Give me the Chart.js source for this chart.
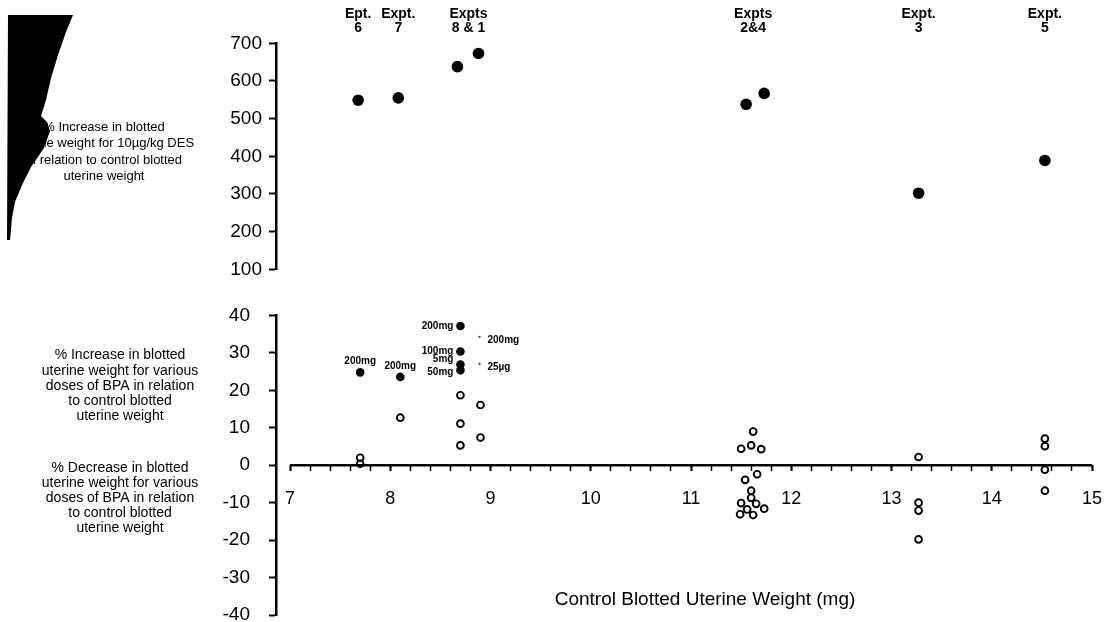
<!DOCTYPE html>
<html>
<head>
<meta charset="utf-8">
<script src="https://cdn.jsdelivr.net/npm/chart.js@4"></script>
<style>
html,body{margin:0;padding:0;background:#fff;overflow:hidden;width:1109px;height:622px}
.wrap{position:absolute;left:0;top:0;width:1109px;height:622px;overflow:hidden}
canvas{position:absolute;left:0;top:0}
</style>
</head>
<body>
<div class="wrap"><canvas id="bot" width="1109" height="660"></canvas></div>
<div class="wrap"><canvas id="top" width="1109" height="622"></canvas></div>
<script>
const SANS = '"Liberation Sans", Arial, Helvetica, sans-serif';
const NARROW = '"Liberation Sans Narrow", "Liberation Sans", Arial, sans-serif';

// ---------------- data ----------------
// top panel: % increase for 10 µg/kg DES
const desExperiments   = ['Ept. 6', 'Expt. 7', 'Expt. 8', 'Expt. 1', 'Expt. 2', 'Expt. 4', 'Expt. 3', 'Expt. 5'];
const desControlWeight = [7.68, 8.08, 8.67, 8.88, 11.55, 11.73, 13.27, 14.53];
const desIncrease      = [549, 555, 638, 673, 538, 567, 302, 389];

// experiment headers above the top panel
const headerLine1 = ['Ept.', 'Expt.', 'Expts', 'Expts', 'Expt.', 'Expt.'];
const headerLine2 = ['6', '7', '8 & 1', '2&4', '3', '5'];
const headerX     = [7.68, 8.08, 8.78, 11.62, 13.27, 14.53];

// bottom panel: BPA, filled (labelled doses)
const bpaFilledX    = [7.70, 8.10, 8.70, 8.70, 8.70, 8.70];
const bpaFilledY    = [24.8, 23.6, 37.2, 30.4, 26.9, 25.4];
const bpaFilledDose = ['200mg', '200mg', '200mg', '100mg', '5mg', '50mg'];
// Expt 1 filled marks (faint in the original)
const bpaFaintX    = [8.89, 8.89];
const bpaFaintY    = [34.3, 27.1];
const bpaFaintDose = ['200mg', '25µg'];
// bottom panel: BPA, open circles
const bpaOpenX = [7.70, 7.70, 8.10, 8.70, 8.70, 8.70, 8.90, 8.90,
  11.62, 11.50, 11.60, 11.70, 11.66, 11.54, 11.60, 11.60, 11.50, 11.65, 11.56, 11.73, 11.49, 11.62,
  13.27, 13.27, 13.27, 13.27,
  14.53, 14.53, 14.53, 14.53];
const bpaOpenY = [2.0, 0.4, 12.7, 18.7, 11.1, 5.3, 16.1, 7.4,
  9.0, 4.4, 5.3, 4.3, -2.4, -3.9, -6.8, -8.7, -10.1, -10.3, -11.8, -11.6, -13.1, -13.3,
  2.2, -10.0, -12.1, -19.8,
  7.1, 5.1, -1.2, -6.8];

// tick labels
const desTicks    = [100, 200, 300, 400, 500, 600, 700];
const bpaTicks    = [-40, -30, -20, -10, 0, 10, 20, 30, 40];
const xTickLabels = [7, 8, 9, 10, 11, 12, 13, 14, 15];

// text blocks
const desAxisText = ['% Increase in blotted', 'uterine weight for 10µg/kg DES', 'in relation to control blotted', 'uterine weight'];
const incAxisText = ['% Increase in blotted', 'uterine weight for various', 'doses of BPA in relation', 'to control blotted', 'uterine weight'];
const decAxisText = ['% Decrease in blotted', 'uterine weight for various', 'doses of BPA in relation', 'to control blotted', 'uterine weight'];
const xTitle = 'Control Blotted Uterine Weight (mg)';

// ---------------- layout constants ----------------
const AXIS_LEFT = 276;
const X_MIN = 7 - (290 - AXIS_LEFT) / 100.25;
const X_MAX = 15;
const PAD_RIGHT = 1109 - 1092;

function txt(ctx, s, x, y, font, align) {
  ctx.save();
  ctx.font = font; ctx.fillStyle = '#000';
  ctx.textAlign = align || 'center'; ctx.textBaseline = 'middle';
  ctx.fillText(s, x, y);
  ctx.restore();
}

// ---------------- top chart ----------------
const topDecor = {
  id: 'topDecor',
  afterDraw(chart) {
    const ctx = chart.ctx;
    const xs = chart.scales.x;
    // scan smudge in the top-left corner
    ctx.save();
    ctx.fillStyle = '#000';
    ctx.beginPath();
    const wedge = [[8,15],[73,15],[66,32],[58,55],[51,78],[46,100],[41,116],[47,122],[50,131],[44,148],[31,167],[22,185],[15,202],[12,218],[10,240],[7,240]];
    ctx.moveTo(wedge[0][0], wedge[0][1]);
    for (let i = 1; i < wedge.length; i++) ctx.lineTo(wedge[i][0], wedge[i][1]);
    ctx.closePath(); ctx.fill();
    ctx.restore();
    const ly = [127, 143, 160, 176];
    desAxisText.forEach((s, i) => txt(ctx, s, 104, ly[i], '13px ' + SANS));
    // experiment headers
    headerLine1.forEach((s, i) => {
      const px = xs.getPixelForValue(headerX[i]);
      txt(ctx, s, px, 14, 'bold 14px ' + NARROW);
      txt(ctx, headerLine2[i], px, 28, 'bold 14px ' + NARROW);
    });
  }
};

new Chart(document.getElementById('top'), {
  type: 'scatter',
  data: {
    labels: desExperiments,
    datasets: [{
      data: desControlWeight.map((x, i) => ({ x: x, y: desIncrease[i] })),
      pointRadius: 5.8, pointBackgroundColor: '#000', pointBorderColor: '#000', pointBorderWidth: 0
    }]
  },
  options: {
    responsive: false, animation: false,
    layout: { padding: { left: 0, right: PAD_RIGHT, top: 43.3, bottom: 622 - 269.3 } },
    plugins: { legend: { display: false }, tooltip: { enabled: false } },
    scales: {
      x: { type: 'linear', min: X_MIN, max: X_MAX, display: false },
      y: {
        min: 100, max: 700,
        afterBuildTicks(s) { s.ticks = desTicks.map(v => ({ value: v })); },
        afterFit(s) { s.width = AXIS_LEFT; },
        ticks: { color: '#000', padding: 7, font: { family: SANS, size: 19 } },
        grid: { drawOnChartArea: false, tickLength: 7, color: '#000', tickWidth: 2 },
        border: { color: '#000', width: 2.5 }
      }
    }
  },
  plugins: [topDecor]
});

// ---------------- bottom chart ----------------
const xTickValues = [];
xTickLabels.forEach(v => {
  if (v < 15) { for (let k = 0; k < 5; k++) xTickValues.push(v + k / 5); }
  else xTickValues.push(v);
});

const botDecor = {
  id: 'botDecor',
  beforeDatasetsDraw(chart) {
    const ctx = chart.ctx, xs = chart.scales.x, ys = chart.scales.y;
    const y0 = ys.getPixelForValue(0);
    ctx.save();
    ctx.strokeStyle = '#000'; ctx.lineWidth = 2.5;
    ctx.beginPath();
    ctx.moveTo(xs.getPixelForValue(7), y0);
    ctx.lineTo(xs.getPixelForValue(15), y0);
    ctx.stroke();
    ctx.restore();
  },
  afterDraw(chart) {
    const ctx = chart.ctx, xs = chart.scales.x, ys = chart.scales.y;
    const f = 'bold 10px ' + NARROW;
    const mode = ['above', 'above', 'left', 'left', 'left', 'left'];
    const dy = [0, 0, 0, 0, -5, 2];
    bpaFilledDose.forEach((s, i) => {
      const px = xs.getPixelForValue(bpaFilledX[i]), py = ys.getPixelForValue(bpaFilledY[i]);
      if (mode[i] === 'above') txt(ctx, s, px, py - 11, f, 'center');
      else txt(ctx, s, px - 7, py + dy[i], f, 'right');
    });
    bpaFaintDose.forEach((s, i) => {
      const px = xs.getPixelForValue(bpaFaintX[i]), py = ys.getPixelForValue(bpaFaintY[i]);
      txt(ctx, s, px + 8, py + 3, f, 'left');
    });
    const y1 = [355, 371, 386, 401, 416];
    incAxisText.forEach((s, i) => txt(ctx, s, 120, y1[i], '14px ' + SANS));
    const y2 = [468, 483, 498, 513, 528];
    decAxisText.forEach((s, i) => txt(ctx, s, 120, y2[i], '14px ' + SANS));
    txt(ctx, xTitle, 705, 600, '19px ' + SANS);
  }
};

new Chart(document.getElementById('bot'), {
  type: 'scatter',
  data: {
    datasets: [
      {
        data: bpaFilledX.map((x, i) => ({ x: x, y: bpaFilledY[i] })),
        pointRadius: 4.3, pointBackgroundColor: '#000', pointBorderColor: '#000', pointBorderWidth: 0
      },
      {
        data: bpaFaintX.map((x, i) => ({ x: x, y: bpaFaintY[i] })),
        pointRadius: 1.2, pointBackgroundColor: '#555', pointBorderColor: '#555', pointBorderWidth: 0
      },
      {
        data: bpaOpenX.map((x, i) => ({ x: x, y: bpaOpenY[i] })),
        pointRadius: 3.4, pointBackgroundColor: 'rgba(255,255,255,0)', pointBorderColor: '#000', pointBorderWidth: 1.9
      }
    ]
  },
  options: {
    responsive: false, animation: false,
    layout: { padding: { left: 0, right: PAD_RIGHT, top: 315.5, bottom: 660 - 615 } },
    plugins: { legend: { display: false }, tooltip: { enabled: false } },
    scales: {
      x: {
        type: 'linear', min: X_MIN, max: X_MAX, position: { y: 0 },
        afterBuildTicks(s) { s.ticks = xTickValues.map(v => ({ value: v })); },
        afterFit(s) { s.height = 0; s.paddingLeft = 0; s.paddingRight = 0; },
        ticks: {
          autoSkip: false, maxRotation: 0, minRotation: 0, padding: 17, color: '#000',
          font: { family: SANS, size: 18 },
          callback(v) { const r = Math.round(v); return Math.abs(v - r) < 1e-6 ? String(r) : ''; }
        },
        grid: {
          drawOnChartArea: false, tickLength: 6, color: '#000',
          tickWidth(c) { const v = c.tick ? c.tick.value : 0; return Math.abs(v - Math.round(v)) < 1e-6 ? 2.2 : 1.5; }
        },
        border: { display: false }
      },
      y: {
        min: -40, max: 40,
        afterBuildTicks(s) { s.ticks = bpaTicks.map(v => ({ value: v })); },
        afterFit(s) { s.width = AXIS_LEFT; },
        ticks: { color: '#000', padding: 19, font: { family: SANS, size: 19 } },
        grid: { drawOnChartArea: false, tickLength: 7, color: '#000', tickWidth: 2 },
        border: { color: '#000', width: 2.5 }
      }
    }
  },
  plugins: [botDecor]
});
</script>
</body>
</html>
